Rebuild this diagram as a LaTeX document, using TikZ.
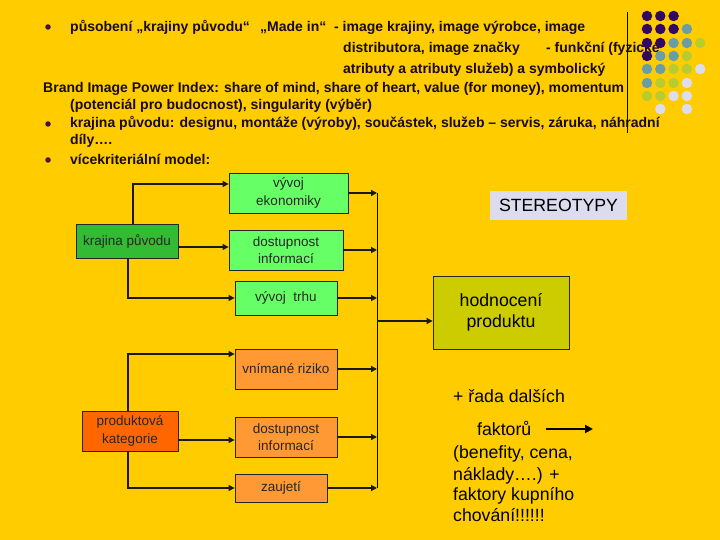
\documentclass[tikz,border=0pt]{standalone}
\usepackage{fontspec}
\setmainfont{Liberation Sans}
\usetikzlibrary{arrows.meta}
\definecolor{bg}{HTML}{FFCC00}
\definecolor{txtc}{HTML}{1A0A14}
\definecolor{bulletc}{HTML}{4A1040}
\definecolor{glight}{HTML}{66FF66}
\definecolor{gdark}{HTML}{33BB33}
\definecolor{olight}{HTML}{FF9933}
\definecolor{odark}{HTML}{FF6600}
\definecolor{olive}{HTML}{CCCC00}
\definecolor{lav}{HTML}{DCDCEE}
\definecolor{dpurple}{HTML}{330860}
\definecolor{dteal}{HTML}{6A9EA6}
\definecolor{dyg}{HTML}{B8CC30}
\definecolor{dlav}{HTML}{DDDDF0}
\begin{document}
\begin{tikzpicture}[x=1pt,y=-1pt,
  txt/.style={anchor=base west, inner sep=0pt, text=txtc, font=\fontsize{14}{16}\selectfont\bfseries},
  rtxt/.style={anchor=base west, inner sep=0pt, text=black, font=\fontsize{17.7}{21}\selectfont},
  box/.style={draw=black!85, line width=0.8pt, inner sep=0pt, align=center, text=black!85, font=\fontsize{13.5}{17.5}\selectfont},
  arr/.style={line width=1.3pt, draw=black!90, -{Triangle[length=6pt,width=6pt]}},
  bul/.style={circle, fill=bulletc, inner sep=0pt, minimum size=5.5pt},
  dot/.style={circle, inner sep=0pt, minimum size=10.5pt}]
\useasboundingbox (0,0) rectangle (720,540);
\fill[bg] (0,0) rectangle (720,540);

% bullets
\node[bul] (b1) at (48,27) {};
\node[bul] (b2) at (48,124) {};
\node[bul] (b3) at (48,160) {};

% text lines
\node[txt] (t1a) at (70,32) {působení „krajiny původu“};
\node[txt] (t1b) at (260,32) {„Made in“};
\node[txt] (t1c) at (334,32) {- image krajiny, image výrobce, image};
\node[txt] (t2a) at (343,53) {distributora, image značky};
\node[txt] (t2b) at (546,53) {- funkční (fyzické};
\node[txt] (t3) at (343,74) {atributy a atributy služeb) a symbolický};
\node[txt] (t4) at (43,93) {Brand Image Power Index: share of mind, share of heart, value (for money), momentum};
\node[txt] (t5) at (70,110) {(potenciál pro budocnost), singularity (výběr)};
\node[txt] (t6) at (70,128) {krajina původu: designu, montáže (výroby), součástek, služeb – servis, záruka, náhradní};
\node[txt] (t7) at (70,145) {díly….};
\node[txt] (t8) at (70,165) {vícekriteriální model:};

% vertical line
\coordinate (vl1) at (627,12);
\coordinate (vl2) at (627,133);
\draw[line width=0.8pt, black] (vl1) -- (vl2);

% dot grid
\foreach \r/\cols in {16/{0/dpurple,1/dpurple,2/dpurple},
                      29/{0/dpurple,1/dpurple,2/dpurple,3/dteal},
                      43/{0/dpurple,1/dpurple,2/dteal,3/dteal,4/dyg},
                      56/{0/dpurple,1/dteal,2/dteal,3/dyg},
                      69/{0/dteal,1/dteal,2/dyg,3/dyg,4/dlav},
                      83/{0/dteal,1/dyg,2/dyg,3/dlav},
                      96/{0/dyg,1/dyg,2/dlav,3/dlav},
                      109/{1/dlav,3/dlav}}{
  \foreach \c/\col in \cols {
    \node[dot, fill=\col] (d-\r-\c) at (647+13.3*\c,\r) {};
  }
}

% flowchart boxes
\node[box, fill=glight, minimum width=119pt, minimum height=40pt] (vyvoj) at (288.5,193) {vývoj\\ekonomiky};
\node[box, fill=gdark, minimum width=102pt, minimum height=34pt] (krajina) at (127,241) {krajina původu};
\node[box, fill=glight, minimum width=114pt, minimum height=40pt] (dost1) at (286,250) {dostupnost\\informací};
\node[box, fill=glight, minimum width=102pt, minimum height=34pt] (trh) at (286,298) {vývoj\ \ trhu};
\node[box, fill=olight, minimum width=102pt, minimum height=40pt] (riziko) at (286,369) {vnímané riziko};
\node[box, fill=odark, minimum width=96pt, minimum height=40pt] (prod) at (130,431) {produktová\\kategorie};
\node[box, fill=olight, minimum width=102pt, minimum height=40pt] (dost2) at (286,437) {dostupnost\\informací};
\node[box, fill=olight, minimum width=92pt, minimum height=28pt] (zaujeti) at (281,488) {zaujetí};
\node[box, fill=olive, minimum width=136pt, minimum height=73pt, font=\fontsize{17.7}{21}\selectfont, text=black] (hodn) at (501,312.5) {hodnocení\\produktu};
\node[draw=none, fill=lav, inner sep=0pt, minimum width=137pt, minimum height=29pt, font=\fontsize{17.7}{21}\selectfont] (stereo) at (558.5,205.5) {STEREOTYPY};

% left connectors
\coordinate (k1) at (133,184);
\coordinate (k2) at (0,247);
\coordinate (k3) at (128,298);
\coordinate (p1) at (128,354);
\coordinate (p2) at (0,440);
\draw[arr] (krajina.north -| k1) |- (vyvoj.west |- k1);
\draw[arr] (krajina.east |- k2) -- (dost1.west |- k2);
\draw[arr] (krajina.south -| k3) |- (trh.west);
\draw[arr] (prod.north -| p1) |- (riziko.west |- p1);
\draw[arr] (prod.east |- p2) -- (dost2.west |- p2);
\draw[arr] (prod.south -| p1) |- (zaujeti.west);

% collector
\coordinate (bus) at (377,0);
\coordinate (h1) at (0,321);
\draw[line width=0.9pt, black] (bus |- vyvoj.east) -- (bus |- zaujeti.east);
\draw[arr] (vyvoj.east) -- (bus |- vyvoj.east);
\draw[arr] (dost1.east) -- (bus |- dost1.east);
\draw[arr] (trh.east) -- (bus |- trh.east);
\draw[arr] (riziko.east) -- (bus |- riziko.east);
\draw[arr] (dost2.east) -- (bus |- dost2.east);
\draw[arr] (zaujeti.east) -- (bus |- zaujeti.east);
\draw[arr] (bus |- h1) -- (hodn.west |- h1);

% right text
\node[rtxt] (r1) at (453,402) {+ řada dalších};
\node[rtxt] (r2) at (477,435) {faktorů};
\node[rtxt] (r3) at (453,458) {(benefity, cena,};
\node[rtxt] (r4) at (453,480) {náklady….) +};
\node[rtxt] (r5) at (453,500) {faktory kupního};
\node[rtxt] (r6) at (453,521) {chování!!!!!!};
\coordinate (fa2) at (593,429);
\draw[line width=2.6pt, black, -{Triangle[length=8pt,width=8pt]}] (r2.east |- fa2) ++(14,0) -- (fa2);
\end{tikzpicture}
\end{document}
